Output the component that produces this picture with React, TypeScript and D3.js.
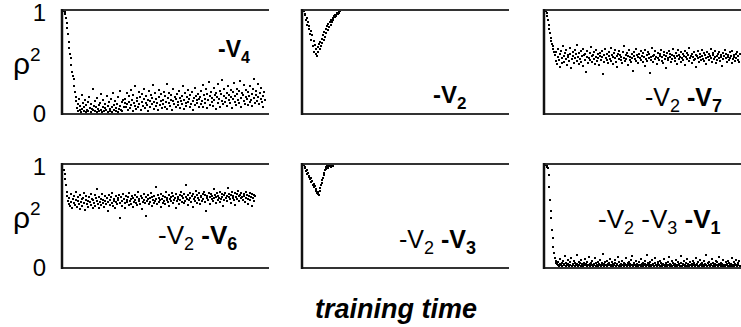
import React from "react";
import * as d3 from "d3";

const W = 741;
const H = 327;

// ρ² (in percent) over training time for each reduced network
const rhoV4 = [
  100, 99, 97, 93, 88, 83, 77, 70, 64, 58, 54, 47, 40, 36, 33, 26, 21, 16,
  12, 5, 9, 2, 14, 3, 7, 1, 18, 4, 10, 2, 6, 13, 1, 8, 3, 11, 2, 16, 5, 1, 9, 4, 24, 3, 7, 2, 12, 6, 1, 15, 4, 8, 2, 10, 3, 19, 1, 6, 13, 2, 9, 5, 3, 17, 1, 7, 11, 4, 2, 14, 6, 1, 20, 3, 8, 12, 2, 5, 9, 1, 16, 4, 22, 7, 3, 11, 2, 13, 6, 10,
  14, 6, 20, 9, 3, 17, 11, 5, 23, 8, 13, 2, 18, 10, 7, 26, 4, 15, 12, 6, 21, 9, 16, 3, 11, 19, 7, 14, 24, 5, 10, 17, 8, 13, 2, 22, 12, 6, 18, 9, 15, 27, 4, 11, 20, 7, 14, 10, 3, 16, 23, 8, 12, 19, 5, 13, 9, 21, 6, 17, 11, 28, 4, 15, 10, 20, 7, 13, 18, 3, 12, 24, 9, 16, 6, 14, 19, 11, 8, 22, 5, 15, 12, 17, 9, 26, 4, 13, 20, 10, 7, 16, 23, 11, 14, 6, 18, 9, 21, 12, 3, 15, 25, 8, 17, 10, 13, 19, 6, 14,
  16, 9, 22, 12, 27, 6, 18, 14, 10, 24, 5, 19, 13, 30, 8, 17, 21, 11, 15, 7, 25, 13, 18, 4, 20, 16, 28, 10, 14, 22, 6, 19, 12, 32, 9, 17, 24, 11, 15, 20, 7, 26, 13, 18, 10, 23, 16, 5, 21, 14, 29, 11, 17, 8, 24, 19, 13, 22, 10, 31, 15, 6, 20, 18, 12, 27, 9, 16, 23, 14, 8, 21, 17, 11, 26, 13, 19, 7, 24, 15, 33, 10, 18, 22, 12, 16, 28, 9, 20, 14, 25, 11, 17, 6, 21, 13,
];

const rhoV2 = [
  100, 96, 97, 91, 93, 86, 89, 82, 85, 77, 80, 72, 76, 66, 71, 60, 67, 58, 63, 56, 65, 60, 68, 63, 70, 66, 73, 69, 76, 72, 79, 75, 82, 78, 85, 81, 87, 84, 89, 86, 91, 89, 93, 91, 95, 94, 96, 95, 97, 98, 97, 99, 98, 100,
];

const rhoV2V7 = [
  100, 98, 95, 91, 86, 82, 78, 74, 71, 68, 66, 63, 60,
  57, 51, 60, 48, 55, 63, 52, 58, 45, 61, 54, 49, 66, 56, 50, 59, 53, 62, 47, 57, 55, 51, 64, 58, 44, 53, 60, 56, 49, 62, 54, 58, 51, 67, 55, 48, 59, 53, 61, 50, 56, 46, 63, 57, 52, 58, 40, 55, 61, 49, 54, 59, 52, 65, 56, 50, 57, 53, 60, 48, 55, 62, 51, 58, 54, 47, 59, 56, 52, 61, 55, 38, 57, 50, 63, 54, 58, 52, 49, 60, 56, 53, 64, 51, 57, 55, 48, 59, 62, 54, 50, 56, 45, 58, 53, 61, 57, 52, 55, 49, 60, 54, 66, 51, 57, 53, 59, 47, 56, 62, 52, 55, 50, 58, 54, 41, 60, 56, 53, 51, 63, 57, 55, 49, 58, 54, 61, 52, 56, 50, 59, 55, 46, 62, 53, 57, 51, 60, 54, 58, 39, 55, 52, 64, 56, 50, 57, 53, 61, 55, 48, 59, 54, 52, 58, 56, 62, 51, 55, 49, 60, 57, 53, 56, 44, 59, 54, 52, 61, 55, 58, 50, 57, 53, 63, 56, 51, 54, 59, 48, 56, 62, 53, 57, 55, 50, 60, 54, 58, 52, 56, 47, 61, 55, 53, 59, 57, 51, 64, 54, 56, 49, 58, 55, 52, 60, 53, 57, 45, 56, 61, 54, 50, 58, 55, 52, 62, 56, 53, 59, 51, 57, 54, 48, 60, 55, 58, 52, 56, 63, 54, 50, 57, 59, 53, 55, 61, 49, 56, 52, 58, 54, 60, 51, 57, 55, 46, 59, 53, 56, 62, 54, 58, 50, 55, 57, 52, 60, 54, 56, 49, 61, 53, 57, 55, 51, 58, 54, 60, 52, 56, 50, 58,
];

const rhoV2V6 = [
  95, 91, 86, 80, 74, 70, 65, 62, 68, 60, 72, 64, 58, 67, 63, 70, 61, 66, 74, 59, 65, 69, 62, 57, 71, 64, 67, 60, 68, 73, 63, 56, 66, 70, 62, 65, 59, 69, 64, 72, 61, 67, 58, 66, 63, 71, 60, 68, 65, 76, 62, 58, 69, 64, 67, 61, 72, 63, 66, 59, 70, 65, 62, 68, 55, 64, 71, 66, 61, 69, 63, 73, 60, 67, 65, 58, 70, 64, 62, 68, 66, 71, 48, 63, 69, 65, 60, 72, 67, 63, 58, 70, 66, 64, 69, 61, 73, 65, 67, 62, 70, 59, 68, 64, 71, 66, 63, 69, 61, 74, 65, 67, 62, 70, 57, 68, 64, 72, 66, 63, 69, 50, 65, 71, 67, 62, 68, 64, 73, 60, 69, 66, 63, 70, 65, 67, 78, 62, 71, 64, 68, 66, 59, 72, 67, 63, 70, 65, 69, 62, 74, 66, 68, 64, 71, 60, 67, 69, 65, 73, 63, 70, 66, 68, 58, 72, 65, 69, 67, 62, 71, 66, 74, 64, 70, 68, 63, 72, 65, 80, 69, 67, 61, 71, 66, 73, 68, 64, 70, 59, 72, 67, 69, 65, 75, 63, 71, 68, 66, 73, 62, 70, 69, 65, 72, 67, 74, 64, 71, 55, 68, 70, 66, 73, 69, 62, 72, 67, 70, 65, 76, 68, 71, 63, 69, 73, 66, 70, 68, 64, 74, 67, 72, 69, 60, 71, 66, 73, 68, 70, 65, 77, 69, 72, 67, 63, 71, 74, 68, 70, 66, 73, 61, 69, 72, 67, 75, 70, 65, 71, 68, 73, 69, 66, 72, 70, 64, 74, 68, 71, 67, 62, 70, 73, 66, 69, 72, 60, 68, 71, 65, 70,
];

const rhoV2V3 = [
  100, 97, 98, 94, 95, 91, 92, 88, 89, 86, 87, 83, 84, 80, 81, 78, 79, 75, 76, 73, 72, 74, 71, 75, 77, 80, 82, 85, 87, 90, 92, 95, 96, 98, 99, 97, 100, 99, 100, 98, 100, 100, 99, 100,
];

const rhoV2V3V1 = [
  100, 99, 98, 97, 90, 78, 66, 55, 48, 36, 28, 20, 14, 9, 6, 4, 3, 2, 5, 1, 3, 8, 2, 4, 1, 6, 2, 3, 11, 1, 4, 2, 7, 3, 1, 5, 2, 9, 1, 3, 2, 6, 4, 1, 2, 12, 3, 1, 5, 2, 4, 1, 7, 3, 2, 1, 4, 8, 2, 3, 1, 5, 2, 10, 1, 3, 4, 2, 6, 1, 2, 3, 9, 1, 4, 2, 5, 1, 3, 7, 2, 1, 4, 2, 13, 3, 1, 5, 2, 6, 1, 3, 2, 4, 8, 1, 2, 5, 3, 1, 2, 7, 4, 1, 3, 2, 10, 1, 5, 2, 3, 1, 6, 2, 4, 1, 3, 9, 2, 1, 4, 2, 5, 3, 1, 7, 2, 11, 1, 3, 4, 2, 1, 6, 3, 2, 1, 5, 2, 8, 1, 3, 4, 1, 2, 6, 3, 1, 2, 12, 4, 1, 3, 5, 2, 1, 7, 2, 3, 1, 4, 9, 2, 1, 3, 5, 2, 1, 6, 4, 2, 1, 3, 8, 2, 1, 4, 3, 1, 5, 2, 10, 1, 3, 2, 6, 1, 4, 2, 1, 3, 7, 2, 1, 5, 3, 2, 1, 4, 11, 1, 2, 3, 6, 1, 2, 4, 1, 8, 3, 2, 1, 5, 2, 3, 1, 6, 2, 4, 1, 9, 2, 3, 1, 5, 1, 2, 7, 3, 1, 4, 2, 1, 6, 3, 2, 12, 1, 4, 2, 5, 1, 3, 2, 8, 1, 4, 2, 3, 1, 6, 2, 5, 1, 3, 10, 2, 1, 4, 3, 1, 7, 2, 1, 5, 2, 3, 1, 6, 4, 1, 2, 3, 9, 1, 2, 5, 1, 3, 7, 2, 1, 4, 2, 6, 1,
];

// Axis ticks (ρ² runs from 0 to 1) and axis titles
const yTicks = [0, 1];
const xTitle = "training time";
const yTitle = "ρ";
const yTitleSup = "2";

// Panel captions: which variables were removed (bold = the latest one)
type Seg = { t: string; sub?: boolean; bold?: boolean };
const capV4: Seg[] = [{ t: "-V", bold: true }, { t: "4", sub: true, bold: true }];
const capV2: Seg[] = [{ t: "-V", bold: true }, { t: "2", sub: true, bold: true }];
const capV2V7: Seg[] = [{ t: "-V" }, { t: "2", sub: true }, { t: " -V", bold: true }, { t: "7", sub: true, bold: true }];
const capV2V6: Seg[] = [{ t: "-V" }, { t: "2", sub: true }, { t: " -V", bold: true }, { t: "6", sub: true, bold: true }];
const capV2V3: Seg[] = [{ t: "-V" }, { t: "2", sub: true }, { t: " -V", bold: true }, { t: "3", sub: true, bold: true }];
const capV2V3V1: Seg[] = [
  { t: "-V" }, { t: "2", sub: true }, { t: " -V" }, { t: "3", sub: true },
  { t: " -V", bold: true }, { t: "1", sub: true, bold: true },
];

const FONT = "'Liberation Sans', Arial, Helvetica, sans-serif";

const rowTops = [10, 164];
const colLefts = [62, 302, 544];
const PW = 206;
const PH = 104;
const T_MAX = 300;

const panels = [
  { data: rhoV4, row: 0, col: 0, cap: capV4, cx: 218, cy: 57, fs: 23 },
  { data: rhoV2, row: 0, col: 1, cap: capV2, cx: 433, cy: 103, fs: 24 },
  { data: rhoV2V7, row: 0, col: 2, cap: capV2V7, cx: 645, cy: 106, fs: 25 },
  { data: rhoV2V6, row: 1, col: 0, cap: capV2V6, cx: 158, cy: 244, fs: 26 },
  { data: rhoV2V3, row: 1, col: 1, cap: capV2V3, cx: 399, cy: 248, fs: 25 },
  { data: rhoV2V3V1, row: 1, col: 2, cap: capV2V3V1, cx: 598, cy: 228, fs: 26 },
];

function Caption({ segs, x, y, fs }: { segs: Seg[]; x: number; y: number; fs: number }) {
  const subFs = Math.round(fs * 0.7);
  return (
    <text x={x} y={y} fontFamily={FONT} fontSize={fs} fill="#000">
      {segs.map((s, i) => (
        <tspan
          key={i}
          y={s.sub ? y + 6 : y}
          fontSize={s.sub ? subFs : fs}
          fontWeight={s.bold ? "bold" : "normal"}
        >
          {s.t}
        </tspan>
      ))}
    </text>
  );
}

function Panel({ p }: { p: (typeof panels)[number] }) {
  const left = colLefts[p.col];
  const top = rowTops[p.row];
  const bottom = top + PH;
  const x = d3.scaleLinear().domain([0, T_MAX]).range([left + 2, left + PW]);
  const y = d3.scaleLinear().domain([0, 100]).range([bottom - 1, top + 1]);
  return (
    <g>
      <g shapeRendering="crispEdges">
        {p.data.map((v, i) => (
          <rect key={i} x={x(i) - 1} y={y(v) - 1} width={2} height={2} fill="#000" />
        ))}
      </g>
      <line x1={left} x2={left + PW + 1} y1={top} y2={top} stroke="#333" strokeWidth={2} />
      <line x1={left} x2={left + PW + 1} y1={bottom} y2={bottom} stroke="#333" strokeWidth={2} />
      <line x1={left} x2={left} y1={top - 1} y2={bottom + 1} stroke="#111" strokeWidth={2.5} />
      <Caption segs={p.cap} x={p.cx} y={p.cy} fs={p.fs} />
      {p.col === 0 &&
        yTicks.map((t) => (
          <text
            key={t}
            x={46}
            y={y(t * 100) + (t === 1 ? 1 : 0)}
            dy="0.36em"
            textAnchor="end"
            fontFamily={FONT}
            fontSize={24}
            fill="#000"
          >
            {t}
          </text>
        ))}
      {p.col === 0 && (
        <text x={13} y={top + 64} fontFamily={FONT} fontSize={30} fill="#000">
          {yTitle}
          <tspan fontSize={19} y={top + 51}>
            {yTitleSup}
          </tspan>
        </text>
      )}
    </g>
  );
}

export default function App() {
  return (
    <svg
      width={W}
      height={H}
      viewBox={`0 0 ${W} ${H}`}
      style={{ position: "absolute", left: 0, top: 0, background: "#fff" }}
    >
      <rect width={W} height={H} fill="#fff" />
      {panels.map((p, i) => (
        <Panel key={i} p={p} />
      ))}
      <text
        x={396}
        y={318}
        textAnchor="middle"
        fontFamily={FONT}
        fontSize={27}
        fontWeight="bold"
        fontStyle="italic"
        fill="#000"
      >
        {xTitle}
      </text>
    </svg>
  );
}
